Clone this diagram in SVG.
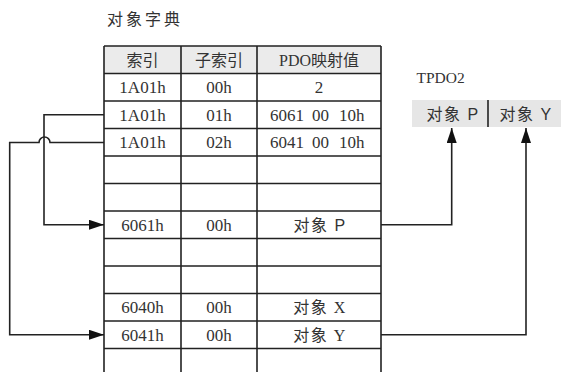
<svg xmlns="http://www.w3.org/2000/svg" width="562" height="372" viewBox="0 0 562 372">
<style>
.ln{stroke:#222;stroke-width:1.6;fill:none}
.cn{stroke:#222;stroke-width:1.6;fill:none}
.sf{font-family:"Liberation Serif","Noto Sans CJK SC",serif;font-size:17px;fill:#333;text-anchor:middle}
.hd{font-family:"Liberation Serif","Noto Sans CJK SC",serif;font-size:16px;fill:#333;text-anchor:middle}
.ss{font-family:"Liberation Sans","Noto Sans CJK SC",sans-serif;font-size:16px;fill:#333;text-anchor:middle;letter-spacing:1.5px}
.ob{font-family:"Liberation Serif","Noto Sans CJK SC",serif;font-size:16px;fill:#333;text-anchor:middle;letter-spacing:1.5px}
</style>
<defs>
<marker id="ah" markerUnits="userSpaceOnUse" markerWidth="16" markerHeight="11" refX="15" refY="5" orient="auto">
<path d="M0,0 L15,5 L0,10 z" fill="#111"/>
</marker>
</defs>
<rect width="562" height="372" fill="#fff"/>
<text x="107" y="25" font-family="Noto Sans CJK SC,sans-serif" font-size="16" letter-spacing="3" fill="#333">对象字典</text>

<g id="dictionary">
<rect x="104" y="46" width="277" height="27.5" fill="#ebebeb"/>
<path class="ln" d="M104,46H381M104,73.5H381M104,101H381M104,128.5H381M104,156H381M104,183.5H381M104,211H381M104,238.5H381M104,266H381M104,293.5H381M104,321H381M104,348.5H381"/>
<path class="ln" d="M104,46V372M181,46V372M257,46V372M381,46V372"/>
<g id="header">
<text class="hd" x="142.5" y="65.5">索引</text>
<text class="hd" x="219" y="65.5">子索引</text>
<text class="hd" x="319" y="65.5">PDO映射值</text>
</g>
<g id="row-1a01-00">
<text class="sf" x="142.5" y="93">1A01h</text>
<text class="sf" x="219" y="93">00h</text>
<text class="sf" x="319" y="93">2</text>
</g>
<g id="row-1a01-01">
<text class="sf" x="142.5" y="120.5">1A01h</text>
<text class="sf" x="219" y="120.5">01h</text>
<text class="sf" y="120.5" style="text-anchor:start"><tspan x="270">6061</tspan><tspan x="312">00</tspan><tspan x="339">10h</tspan></text>
</g>
<g id="row-1a01-02">
<text class="sf" x="142.5" y="148">1A01h</text>
<text class="sf" x="219" y="148">02h</text>
<text class="sf" y="148" style="text-anchor:start"><tspan x="270">6041</tspan><tspan x="312">00</tspan><tspan x="339">10h</tspan></text>
</g>
<g id="row-6061">
<text class="sf" x="142.5" y="230.5">6061h</text>
<text class="sf" x="219" y="230.5">00h</text>
<text class="ss" x="320" y="230.5">对象 P</text>
</g>
<g id="row-6040">
<text class="sf" x="142.5" y="313">6040h</text>
<text class="sf" x="219" y="313">00h</text>
<text class="ob" x="320" y="313">对象 X</text>
</g>
<g id="row-6041">
<text class="sf" x="142.5" y="340.5">6041h</text>
<text class="sf" x="219" y="340.5">00h</text>
<text class="ob" x="320" y="340.5">对象 Y</text>
</g>
</g>

<g id="tpdo2">
<text x="416.5" y="83" font-family="Liberation Serif,serif" font-size="15.5" fill="#333">TPDO2</text>
<rect x="412" y="100" width="149" height="27" fill="#e6e6e6"/>
<path d="M488,100V127" stroke="#222" stroke-width="1.6"/>
<text class="ss" x="453" y="119.5">对象 P</text>
<text class="ss" x="526" y="119.5">对象 Y</text>
</g>

<g id="connectors">
<path class="cn" d="M104,114.7H44V224.75H104" marker-end="url(#ah)"/>
<path class="cn" d="M104,142.5H50 A5.5,5.5 0 0 0 39,142.5 H9.7V334.75H104" marker-end="url(#ah)"/>
<path class="cn" d="M381,224.75H451.7V128" marker-end="url(#ah)"/>
<path class="cn" d="M381,334.75H526V128" marker-end="url(#ah)"/>
</g>
</svg>
